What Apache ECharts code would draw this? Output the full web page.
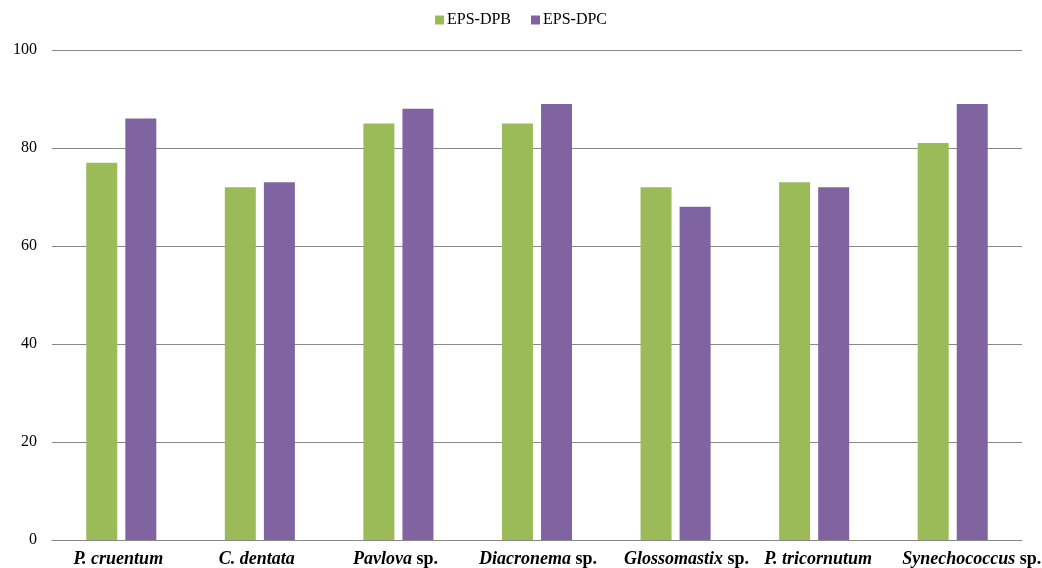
<!DOCTYPE html>
<html><head><meta charset="utf-8">
<script src="https://cdn.jsdelivr.net/npm/echarts@6/dist/echarts.min.js"></script>
<style>html,body{margin:0;padding:0;background:#fff}#c{width:1042px;height:568px}</style>
</head><body><div id="c"></div>
<script>
// categories: [italic part, roman suffix]
const categories = [
  ['P. cruentum', ''],
  ['C. dentata', ''],
  ['Pavlova', ' sp.'],
  ['Diacronema', ' sp.'],
  ['Glossomastix', ' sp.'],
  ['P. tricornutum', ''],
  ['Synechococcus', ' sp.']
];
const seriesNames = ['EPS-DPB', 'EPS-DPC'];
const epsDPB = [77, 72, 85, 85, 72, 73, 81];
const epsDPC = [86, 73, 88, 89, 68, 72, 89];
const yTicks = [0, 20, 40, 60, 80, 100];

// horizontal nudges of the category labels (style, not data)
const labelNudge = [-3, -3, -3, 1, 11, 4, 19];

const catKeys = categories.map(c => c[0] + c[1]);
const catMap = {};
categories.forEach(c => { catMap[c[0] + c[1]] = c; });

const chart = echarts.init(document.getElementById('c'));
const font = '"Liberation Serif", "Times New Roman", serif';
chart.setOption({
  animation: false,
  textStyle: { fontFamily: font },
  legend: {
    top: 7, left: 'center',
    itemWidth: 9, itemHeight: 9, itemGap: 20,
    icon: 'rect',
    textStyle: { fontFamily: font, fontSize: 16, color: '#000', padding: [0, 0, 0, -2] },
    data: seriesNames
  },
  grid: { left: 52, right: 20, top: 50, bottom: 28, containLabel: false, outerBoundsMode: 'none' },
  xAxis: {
    type: 'category',
    data: catKeys.map((k, i) => {
      const n = labelNudge[i];
      return { value: k, textStyle: { padding: n >= 0 ? [0, 0, 0, 2 * n] : [0, -2 * n, 0, 0] } };
    }),
    axisTick: { show: false },
    axisLine: { lineStyle: { color: '#888', width: 1 } },
    axisLabel: {
      interval: 0, margin: 10, hideOverlap: false,
      formatter: function (v) {
        const c = catMap[v];
        return '{i|' + c[0] + '}' + (c[1] ? '{r|' + c[1] + '}' : '');
      },
      rich: {
        i: { fontFamily: font, fontSize: 18, fontStyle: 'italic', fontWeight: 'bold', color: '#000' },
        r: { fontFamily: font, fontSize: 18, fontWeight: 'bold', color: '#000' }
      }
    }
  },
  yAxis: {
    type: 'value', min: 0, max: 100, interval: 20,
    axisLine: { show: false }, axisTick: { show: false },
    splitLine: { lineStyle: { color: '#888', width: 1 } },
    axisLabel: {
      margin: 15, fontFamily: font, fontSize: 16, color: '#000',
      formatter: v => yTicks.includes(v) ? String(v) : ''
    }
  },
  series: [
    { name: seriesNames[0], type: 'bar', data: epsDPB, barWidth: 31, barGap: '26%',
      itemStyle: { color: '#9BBB59' } },
    { name: seriesNames[1], type: 'bar', data: epsDPC, barWidth: 31, barGap: '26%',
      itemStyle: { color: '#8064A2' } }
  ]
});
</script></body></html>
